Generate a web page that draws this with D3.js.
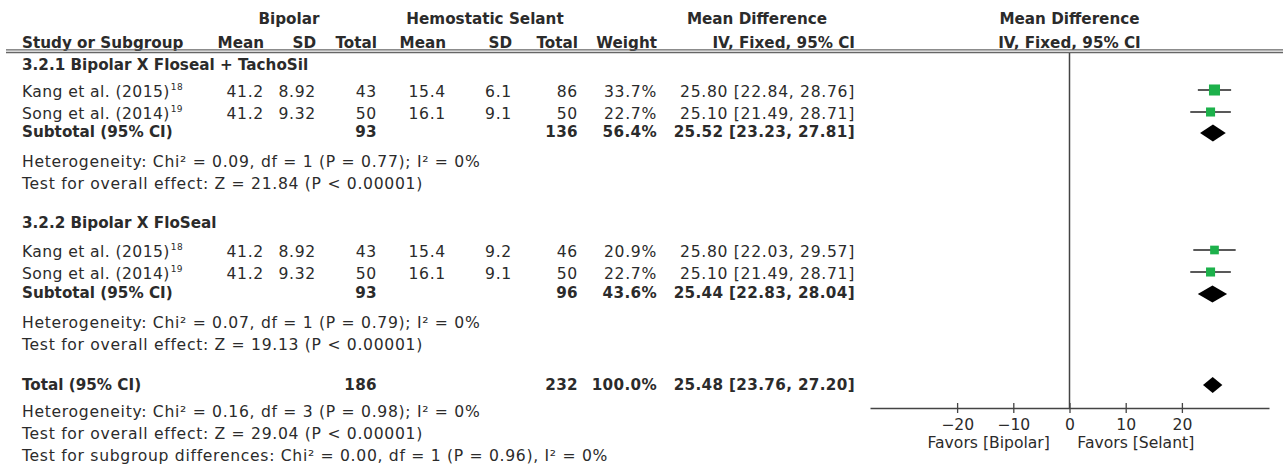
<!DOCTYPE html>
<html><head><meta charset="utf-8">
<script src="https://cdn.jsdelivr.net/npm/d3@7"></script>
<style>
html,body{margin:0;padding:0;background:#fff;}
svg{display:block;}
</style></head>
<body>
<svg id="chart" width="1283" height="469"></svg>
<script>
// ---------------- DATA ----------------
const groupTitles = ["3.2.1 Bipolar X Floseal + TachoSil", "3.2.2 Bipolar X FloSeal"];
const studyNames = ["Kang et al. (2015)", "Song et al. (2014)", "Kang et al. (2015)", "Song et al. (2014)"];
const studyRefs = ["18", "19", "18", "19"];
const studyGroup = [0, 0, 1, 1];
const bipolarMean = ["41.2", "41.2", "41.2", "41.2"];
const bipolarSD = ["8.92", "9.32", "8.92", "9.32"];
const bipolarTotal = [43, 50, 43, 50];
const sealantMean = ["15.4", "16.1", "15.4", "16.1"];
const sealantSD = ["6.1", "9.1", "9.2", "9.1"];
const sealantTotal = [86, 50, 46, 50];
const studyWeight = [33.7, 22.7, 20.9, 22.7];
const studyMD = [25.80, 25.10, 25.80, 25.10];
const studyLo = [22.84, 21.49, 22.03, 21.49];
const studyHi = [28.76, 28.71, 29.57, 28.71];

const subBipolarTotal = [93, 93];
const subSealantTotal = [136, 96];
const subWeight = [56.4, 43.6];
const subMD = [25.52, 25.44];
const subLo = [23.23, 22.83];
const subHi = [27.81, 28.04];
const subHet = ["Heterogeneity: Chi² = 0.09, df = 1 (P = 0.77); I² = 0%",
                "Heterogeneity: Chi² = 0.07, df = 1 (P = 0.79); I² = 0%"];
const subEffect = ["Test for overall effect: Z = 21.84 (P < 0.00001)",
                   "Test for overall effect: Z = 19.13 (P < 0.00001)"];

const totalBipolar = 186, totalSealant = 232, totalWeight = 100.0;
const totalMD = 25.48, totalLo = 23.76, totalHi = 27.20;
const totalNotes = ["Heterogeneity: Chi² = 0.16, df = 3 (P = 0.98); I² = 0%",
                    "Test for overall effect: Z = 29.04 (P < 0.00001)",
                    "Test for subgroup differences: Chi² = 0.00, df = 1 (P = 0.96), I² = 0%"];

const axisTicks = [-20, -10, 0, 10, 20];
const axisDomain = [-35.5, 35.5];
const favorsLeft = "Favors [Bipolar]";
const favorsRight = "Favors [Selant]";
const header1 = ["Bipolar", "Hemostatic Selant", "Mean Difference", "Mean Difference"];
const header2 = ["Study or Subgroup", "Mean", "SD", "Total", "Mean", "SD", "Total", "Weight", "IV, Fixed, 95% CI", "IV, Fixed, 95% CI"];

// ---------------- LAYOUT ----------------
const W = 1283, H = 469;
const FONT = "'DejaVu Sans', Verdana, sans-serif";
const REG = 15.6, BOLD = 15.2;
const REG_LS = 0.7, BOLD_NUM_LS = 0.35;
const TXT = "#2b2b2b";
const GREEN = "#1db14b";

const rowKeys = ["h1","h2","g0","s0","s1","sub0","het0","eff0","g1","s2","s3","sub1","het1","eff1","tot","n0","n1","n2"];
const rowPos  = [19, 43, 65, 91, 113, 132, 161, 183, 223, 251, 273, 293, 322, 344, 385, 411, 433, 455];
const y = d3.scaleOrdinal().domain(rowKeys).range(rowPos);

const colKeys = ["name","bMean","bSD","bTot","hMean","hSD","hTot","wt","ci"];
const colPos  = [22, 264, 316, 377, 446, 512, 578, 657, 855];
const col = d3.scaleOrdinal().domain(colKeys).range(colPos);

const x = d3.scaleLinear().domain(axisDomain).range([870, 1269]);
const axisY = 408;
const headerLineY = 51;

const svg = d3.select("#chart");
svg.append("rect").attr("width", W).attr("height", H).attr("fill", "#fff");

function text(t, xx, yy, opts = {}) {
  const ls = opts.ls !== undefined ? opts.ls : (opts.bold ? 0 : REG_LS);
  return svg.append("text")
    .attr("x", xx).attr("y", yy).attr("dy", "0.36em")
    .attr("text-anchor", opts.anchor || "start")
    .attr("font-family", FONT)
    .attr("font-size", opts.bold ? BOLD : REG)
    .attr("font-weight", opts.bold ? "bold" : "normal")
    .attr("letter-spacing", ls)
    .attr("fill", TXT)
    .text(t);
}

// headers
text(header1[0], 289, y("h1"), {bold: true, anchor: "middle"});
text(header1[1], 485, y("h1"), {bold: true, anchor: "middle"});
text(header1[2], 757, y("h1"), {bold: true, anchor: "middle"});
text(header1[3], x(0), y("h1"), {bold: true, anchor: "middle"});
text(header2[0], col("name"), y("h2"), {bold: true});
["bMean","bSD","bTot","hMean","hSD","hTot","wt","ci"].forEach((k, i) =>
  text(header2[i + 1], col(k), y("h2"), {bold: true, anchor: "end"}));
text(header2[9], x(0), y("h2"), {bold: true, anchor: "middle"});

// header rule (double)
svg.append("line").attr("x1", 6).attr("x2", W).attr("y1", headerLineY - 1.2).attr("y2", headerLineY - 1.2)
  .attr("stroke", "#666").attr("stroke-width", 1.3);
svg.append("line").attr("x1", 6).attr("x2", W).attr("y1", headerLineY + 1.5).attr("y2", headerLineY + 1.5)
  .attr("stroke", "#666").attr("stroke-width", 1.3);

// zero line
svg.append("line").attr("x1", x(0)).attr("x2", x(0)).attr("y1", headerLineY + 2).attr("y2", axisY)
  .attr("stroke", "#444").attr("stroke-width", 1.5);

// groups
const studyRowKeys = ["s0","s1","s2","s3"];
groupTitles.forEach((g, gi) => {
  text(g, col("name"), y("g" + gi), {bold: true});
  const sk = "sub" + gi;
  text("Subtotal (95% CI)", col("name"), y(sk), {bold: true});
  text(subBipolarTotal[gi], col("bTot"), y(sk), {bold: true, anchor: "end", ls: BOLD_NUM_LS});
  text(subSealantTotal[gi], col("hTot"), y(sk), {bold: true, anchor: "end", ls: BOLD_NUM_LS});
  text(subWeight[gi].toFixed(1) + "%", col("wt"), y(sk), {bold: true, anchor: "end", ls: BOLD_NUM_LS});
  text(`${subMD[gi].toFixed(2)} [${subLo[gi].toFixed(2)}, ${subHi[gi].toFixed(2)}]`, col("ci"), y(sk), {bold: true, anchor: "end", ls: BOLD_NUM_LS});
  text(subHet[gi], col("name"), y("het" + gi));
  text(subEffect[gi], col("name"), y("eff" + gi));
});

function diamond(md, lo, hi, yy, h) {
  svg.append("path")
    .attr("d", `M${x(lo)},${yy} L${x(md)},${yy - h / 2} L${x(hi)},${yy} L${x(md)},${yy + h / 2} Z`)
    .attr("fill", "#000");
}

studyNames.forEach((n, i) => {
  const yy = y(studyRowKeys[i]);
  const t = text(n, col("name"), yy, {ls: 0.4});
  t.append("tspan").attr("font-size", 9).attr("dy", "-0.75em").attr("dx", 1).text(studyRefs[i]);
  text(bipolarMean[i], col("bMean"), yy, {anchor: "end"});
  text(bipolarSD[i], col("bSD"), yy, {anchor: "end"});
  text(bipolarTotal[i], col("bTot"), yy, {anchor: "end"});
  text(sealantMean[i], col("hMean"), yy, {anchor: "end"});
  text(sealantSD[i], col("hSD"), yy, {anchor: "end"});
  text(sealantTotal[i], col("hTot"), yy, {anchor: "end"});
  text(studyWeight[i].toFixed(1) + "%", col("wt"), yy, {anchor: "end"});
  text(`${studyMD[i].toFixed(2)} [${studyLo[i].toFixed(2)}, ${studyHi[i].toFixed(2)}]`, col("ci"), yy, {anchor: "end"});
  // marker
  svg.append("line").attr("x1", x(studyLo[i])).attr("x2", x(studyHi[i])).attr("y1", yy - 1).attr("y2", yy - 1)
    .attr("stroke", "#222").attr("stroke-width", 1.5);
  const s = 1.9 * Math.sqrt(studyWeight[i]);
  svg.append("rect").attr("x", x(studyMD[i]) - s / 2).attr("y", yy - 1 - s / 2)
    .attr("width", s).attr("height", s).attr("fill", GREEN);
});

subMD.forEach((m, gi) => diamond(m, subLo[gi], subHi[gi], y("sub" + gi) + 1, 17));

// total
text("Total (95% CI)", col("name"), y("tot"), {bold: true});
text(totalBipolar, col("bTot"), y("tot"), {bold: true, anchor: "end", ls: BOLD_NUM_LS});
text(totalSealant, col("hTot"), y("tot"), {bold: true, anchor: "end", ls: BOLD_NUM_LS});
text(totalWeight.toFixed(1) + "%", col("wt"), y("tot"), {bold: true, anchor: "end", ls: BOLD_NUM_LS});
text(`${totalMD.toFixed(2)} [${totalLo.toFixed(2)}, ${totalHi.toFixed(2)}]`, col("ci"), y("tot"), {bold: true, anchor: "end", ls: BOLD_NUM_LS});
diamond(totalMD, totalLo, totalHi, y("tot"), 16);
totalNotes.forEach((t, i) => text(t, col("name"), y("n" + i)));

// axis
const ax = svg.append("g").attr("transform", `translate(0,${axisY})`)
  .call(d3.axisBottom(x).tickValues(axisTicks).tickSizeInner(5).tickSizeOuter(0).tickPadding(5));
ax.select(".domain").attr("stroke", "#444").attr("stroke-width", 1.5);
ax.selectAll(".tick line").attr("y1", -5).attr("stroke", "#444").attr("stroke-width", 1.3);
ax.selectAll(".tick text").attr("font-family", FONT).attr("font-size", REG).attr("fill", TXT)
  .attr("y", 16).attr("dy", "0.36em");
text(favorsLeft, x(-3.5), axisY + 34, {anchor: "end", ls: 0});
text(favorsRight, x(1.4), axisY + 34, {ls: 0});
</script>
</body></html>
